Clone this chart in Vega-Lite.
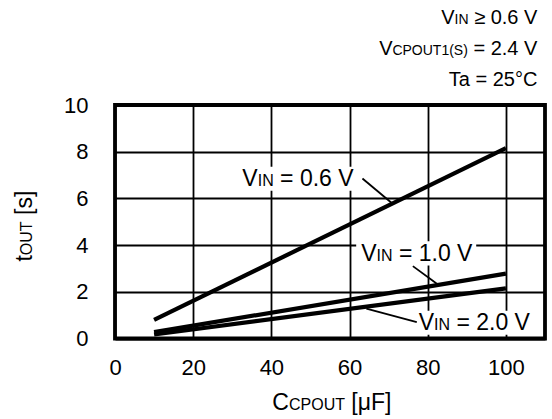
{
  "$schema": "https://vega.github.io/schema/vega-lite/v6.json",
  "width": 430,
  "height": 233.5,
  "autosize": {"type": "none"},
  "padding": {"left": 115, "top": 105, "right": 7, "bottom": 80.5},
  "background": "white",
  "config": {
    "view": {"stroke": "black", "strokeWidth": 3.8},
    "font": "Liberation Sans",
    "text": {"font": "Liberation Sans", "color": "black", "baseline": "alphabetic"}
  },
  "datasets": {
    "lines": [
      {"series": "0.6 V", "c": 10, "t": 0.8},
      {"series": "0.6 V", "c": 100, "t": 8.15},
      {"series": "1.0 V", "c": 10, "t": 0.27},
      {"series": "1.0 V", "c": 100, "t": 2.78},
      {"series": "2.0 V", "c": 10, "t": 0.17},
      {"series": "2.0 V", "c": 100, "t": 2.15}
    ],
    "boxes": [
      {"series": "0.6 V", "x1": 31.9, "x2": 61.8, "y1": 6.33, "y2": 7.36},
      {"series": "1.0 V", "x1": 61.7, "x2": 92.4, "y1": 3.13, "y2": 4.17},
      {"series": "2.0 V", "x1": 76.9, "x2": 107.5, "y1": 0.16, "y2": 1.19}
    ],
    "leaders": [
      {"series": "0.6 V", "x1": 63.3, "y1": 6.85, "x2": 71.1, "y2": 5.76},
      {"series": "1.0 V", "x1": 76.2, "y1": 3.10, "x2": 82.6, "y2": 2.31},
      {"series": "2.0 V", "x1": 64.3, "y1": 1.28, "x2": 77.2, "y2": 0.70}
    ],
    "vinLabels": [
      {"x": 36.5, "y": 6.54, "main": "V", "sub": "IN", "rest": "= 0.6 V"},
      {"x": 66.9, "y": 3.33, "main": "V", "sub": "IN", "rest": "= 1.0 V"},
      {"x": 81.6, "y": 0.37, "main": "V", "sub": "IN", "rest": "= 2.0 V"}
    ],
    "xTitle": [{"x": 44.5, "y": -3.08, "main": "C", "sub": "CPOUT", "rest": "[μF]"}],
    "yTitle": [{"x": -21.2, "y": 3.57, "main": "t", "sub": "OUT", "rest": "[s]"}],
    "notes": [
      {"row": 1, "x": 108.05, "y": 13.47, "main": "V", "sub": "IN", "rest": "≥ 0.6 V"},
      {"row": 2, "x": 108.05, "y": 12.14, "main": "V", "sub": "CPOUT1(S)", "rest": "= 2.4 V"},
      {"row": 3, "x": 108.05, "y": 10.8, "main": "", "sub": "", "rest": "Ta = 25°C"}
    ]
  },
  "layer": [
    {
      "data": {"name": "boxes"},
      "mark": {"type": "rect", "fill": "white"},
      "encoding": {
        "x": {"field": "x1", "type": "quantitative", "title": null, "scale": {"domain": [0, 110], "nice": false, "zero": false},
          "axis": {"values": [0, 20, 40, 60, 80, 100], "grid": true, "gridColor": "black", "gridWidth": 1.8, "gridOpacity": 1,
            "ticks": false, "domain": false, "labelFontSize": 22, "labelColor": "black", "labelFont": "Liberation Sans",
            "labelPadding": 19, "labelFlush": false, "labelOverlap": false, "title": null}},
        "x2": {"field": "x2"},
        "y": {"field": "y1", "type": "quantitative", "title": null, "scale": {"domain": [0, 10], "nice": false, "zero": false},
          "axis": {"values": [0, 2, 4, 6, 8, 10], "grid": true, "gridColor": "black", "gridWidth": 1.8, "gridOpacity": 1,
            "ticks": false, "domain": false, "labelFontSize": 22, "labelColor": "black", "labelFont": "Liberation Sans",
            "labelPadding": 27, "labelFlush": false, "labelOverlap": false, "title": null}},
        "y2": {"field": "y2"}
      }
    },
    {
      "data": {"name": "lines"},
      "mark": {"type": "line", "color": "black", "strokeWidth": 4.2, "strokeCap": "butt"},
      "encoding": {
        "x": {"field": "c", "type": "quantitative", "title": null},
        "y": {"field": "t", "type": "quantitative", "title": null},
        "detail": {"field": "series"}
      }
    },
    {
      "data": {"name": "leaders"},
      "mark": {"type": "rule", "color": "black", "strokeWidth": 1.8},
      "encoding": {
        "x": {"field": "x1", "type": "quantitative", "title": null},
        "y": {"field": "y1", "type": "quantitative", "title": null},
        "x2": {"field": "x2"},
        "y2": {"field": "y2"}
      }
    },
    {
      "data": {"name": "vinLabels"},
      "mark": {"type": "text", "align": "right", "fontSize": 23},
      "encoding": {"x": {"field": "x", "type": "quantitative", "title": null}, "y": {"field": "y", "type": "quantitative", "title": null}, "text": {"field": "main"}}
    },
    {
      "data": {"name": "vinLabels"},
      "mark": {"type": "text", "align": "left", "fontSize": 16},
      "encoding": {"x": {"field": "x", "type": "quantitative", "title": null}, "y": {"field": "y", "type": "quantitative", "title": null}, "text": {"field": "sub"}}
    },
    {
      "data": {"name": "vinLabels"},
      "mark": {"type": "text", "align": "left", "fontSize": 23, "dx": 22.4},
      "encoding": {"x": {"field": "x", "type": "quantitative", "title": null}, "y": {"field": "y", "type": "quantitative", "title": null}, "text": {"field": "rest"}}
    },
    {
      "data": {"name": "xTitle"},
      "mark": {"type": "text", "align": "right", "fontSize": 23},
      "encoding": {"x": {"field": "x", "type": "quantitative", "title": null}, "y": {"field": "y", "type": "quantitative", "title": null}, "text": {"field": "main"}}
    },
    {
      "data": {"name": "xTitle"},
      "mark": {"type": "text", "align": "left", "fontSize": 16},
      "encoding": {"x": {"field": "x", "type": "quantitative", "title": null}, "y": {"field": "y", "type": "quantitative", "title": null}, "text": {"field": "sub"}}
    },
    {
      "data": {"name": "xTitle"},
      "mark": {"type": "text", "align": "left", "fontSize": 23, "dx": 62.4},
      "encoding": {"x": {"field": "x", "type": "quantitative", "title": null}, "y": {"field": "y", "type": "quantitative", "title": null}, "text": {"field": "rest"}}
    },
    {
      "data": {"name": "yTitle"},
      "mark": {"type": "text", "align": "right", "fontSize": 23, "angle": 270},
      "encoding": {"x": {"field": "x", "type": "quantitative", "title": null}, "y": {"field": "y", "type": "quantitative", "title": null}, "text": {"field": "main"}}
    },
    {
      "data": {"name": "yTitle"},
      "mark": {"type": "text", "align": "left", "fontSize": 16, "angle": 270},
      "encoding": {"x": {"field": "x", "type": "quantitative", "title": null}, "y": {"field": "y", "type": "quantitative", "title": null}, "text": {"field": "sub"}}
    },
    {
      "data": {"name": "yTitle"},
      "mark": {"type": "text", "align": "left", "fontSize": 23, "angle": 270, "dx": 40.2},
      "encoding": {"x": {"field": "x", "type": "quantitative", "title": null}, "y": {"field": "y", "type": "quantitative", "title": null}, "text": {"field": "rest"}}
    },
    {
      "data": {"name": "notes"},
      "mark": {"type": "text", "align": "right", "fontSize": 20},
      "encoding": {"x": {"field": "x", "type": "quantitative", "title": null}, "y": {"field": "y", "type": "quantitative", "title": null}, "text": {"field": "rest"}}
    },
    {
      "data": {"name": "notes"},
      "transform": [{"filter": "datum.row == 1"}],
      "mark": {"type": "text", "align": "right", "fontSize": 14, "dx": -68.8},
      "encoding": {"x": {"field": "x", "type": "quantitative", "title": null}, "y": {"field": "y", "type": "quantitative", "title": null}, "text": {"field": "sub"}}
    },
    {
      "data": {"name": "notes"},
      "transform": [{"filter": "datum.row == 1"}],
      "mark": {"type": "text", "align": "right", "fontSize": 20, "dx": -82.8},
      "encoding": {"x": {"field": "x", "type": "quantitative", "title": null}, "y": {"field": "y", "type": "quantitative", "title": null}, "text": {"field": "main"}}
    },
    {
      "data": {"name": "notes"},
      "transform": [{"filter": "datum.row == 2"}],
      "mark": {"type": "text", "align": "right", "fontSize": 14, "dx": -69.5},
      "encoding": {"x": {"field": "x", "type": "quantitative", "title": null}, "y": {"field": "y", "type": "quantitative", "title": null}, "text": {"field": "sub"}}
    },
    {
      "data": {"name": "notes"},
      "transform": [{"filter": "datum.row == 2"}],
      "mark": {"type": "text", "align": "right", "fontSize": 20, "dx": -144.9},
      "encoding": {"x": {"field": "x", "type": "quantitative", "title": null}, "y": {"field": "y", "type": "quantitative", "title": null}, "text": {"field": "main"}}
    }
  ]
}
